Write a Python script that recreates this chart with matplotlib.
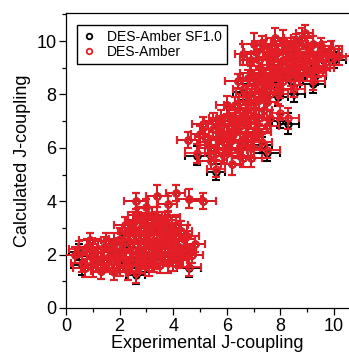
import numpy as np
import matplotlib
matplotlib.use("Agg")
import matplotlib.pyplot as plt
from matplotlib.lines import Line2D
from matplotlib.ticker import MultipleLocator

plt.rcParams['font.family'] = ['Liberation Sans', 'DejaVu Sans']

# --------------------- data ---------------------
# lower cluster
exp_low = [0.35, 0.6, 0.8, 0.9, 1.0, 1.1, 1.2, 1.3, 1.4, 1.5, 1.6, 1.7, 1.8, 1.9, 2.0,
           2.0, 2.1, 2.2, 2.3, 2.3, 2.4, 2.5, 2.5, 2.6, 2.6, 2.7, 2.7, 2.8, 2.8, 2.9,
           2.9, 3.0, 3.0, 3.1, 3.1, 3.2, 3.2, 3.3, 3.3, 3.4, 3.4, 3.5, 3.5, 3.6, 3.6,
           3.7, 3.8, 3.8, 3.9, 4.0, 4.0, 4.1, 4.2, 4.3, 4.4, 4.5, 4.6, 4.8, 2.6, 3.4,
           4.1, 4.6, 5.1, 3.0, 3.8,
           0.5, 0.7, 1.0, 1.2, 1.4, 1.6, 1.8, 2.0, 2.2, 2.2, 2.4, 2.4, 2.5, 2.6, 2.7,
           2.8, 2.9, 3.0, 3.0, 3.1, 3.2, 3.2, 3.3, 3.4, 3.5, 3.5, 3.6, 3.7, 3.7, 3.8,
           3.9, 4.0, 4.1, 4.2, 4.3, 4.4, 4.5, 4.7]
amber_low = [2.0, 1.7, 2.3, 2.55, 1.5, 1.9, 2.2, 1.4, 1.8, 2.5, 1.6, 2.1, 1.35, 1.9, 2.6,
             1.5, 2.2, 1.8, 2.9, 1.4, 2.4, 3.2, 1.9, 1.3, 2.7, 3.5, 2.1, 1.6, 3.0, 2.5,
             1.9, 3.4, 2.2, 1.5, 2.8, 3.1, 2.0, 2.5, 1.7, 3.3, 2.2, 2.8, 1.6, 3.0, 2.4,
             1.9, 2.7, 3.4, 2.1, 2.5, 1.7, 3.1, 2.3, 1.9, 2.6, 2.1, 1.55, 2.4, 4.0, 4.2,
             4.3, 4.1, 4.0, 3.8, 3.9,
             2.2, 1.5, 2.1, 1.6, 2.3, 1.9, 2.4, 1.9, 2.5, 3.1, 1.6, 2.9, 2.2, 3.3, 1.8,
             2.4, 3.2, 1.7, 2.8, 2.4, 3.5, 1.9, 2.9, 1.8, 2.5, 3.2, 2.0, 2.6, 3.3, 1.7,
             2.9, 2.2, 2.7, 1.8, 2.9, 2.2, 2.7, 2.0]
sf_low = [2.0, 1.6, 2.3, 2.55, 1.5, 1.9, 2.2, 1.4, 1.8, 2.5, 1.6, 2.1, 1.35, 1.9, 2.6,
          1.5, 2.2, 1.8, 2.9, 1.4, 2.4, 3.2, 1.8, 1.25, 2.7, 3.5, 2.1, 1.6, 3.0, 2.5,
          1.9, 3.4, 2.2, 1.5, 2.8, 3.1, 2.0, 2.5, 1.7, 3.3, 2.2, 2.8, 1.6, 3.0, 2.4,
          1.9, 2.7, 3.4, 2.1, 2.5, 1.7, 3.1, 2.3, 1.9, 2.6, 2.1, 1.5, 2.4, 4.0, 4.2,
          4.3, 4.1, 4.0, 3.8, 3.9,
          2.1, 1.5, 2.1, 1.6, 2.3, 1.9, 2.4, 1.9, 2.4, 3.1, 1.6, 2.9, 2.2, 3.3, 1.8,
          2.4, 3.2, 1.6, 2.8, 2.4, 3.5, 1.9, 2.9, 1.8, 2.5, 3.2, 2.0, 2.6, 3.3, 1.7,
          2.9, 2.2, 2.7, 1.8, 2.9, 2.2, 2.7, 2.0]
xerr_low = [0.45, 0.4, 0.35, 0.4, 0.45, 0.3, 0.4, 0.35, 0.45, 0.4, 0.3, 0.4, 0.45, 0.35, 0.4,
            0.45, 0.3, 0.4, 0.35, 0.45, 0.4, 0.3, 0.4, 0.35, 0.45, 0.4, 0.3, 0.4, 0.45, 0.35,
            0.4, 0.45, 0.3, 0.4, 0.35, 0.45, 0.4, 0.3, 0.4, 0.35, 0.45, 0.4, 0.3, 0.4, 0.45,
            0.35, 0.4, 0.45, 0.3, 0.4, 0.35, 0.45, 0.4, 0.3, 0.4, 0.35, 0.45, 0.4, 0.45, 0.4,
            0.35, 0.45, 0.5, 0.4, 0.35,
            0.4, 0.45, 0.35, 0.4, 0.45, 0.3, 0.4, 0.45, 0.35, 0.4, 0.45, 0.3, 0.4, 0.35, 0.45,
            0.4, 0.3, 0.4, 0.45, 0.35, 0.4, 0.45, 0.3, 0.4, 0.35, 0.45, 0.4, 0.3, 0.4, 0.45,
            0.35, 0.4, 0.45, 0.3, 0.4, 0.35, 0.45, 0.4]
yerr_low = [0.3, 0.35, 0.3, 0.25, 0.35, 0.3, 0.4, 0.3, 0.35, 0.3, 0.25, 0.35, 0.3, 0.3, 0.4,
            0.3, 0.35, 0.25, 0.3, 0.35, 0.3, 0.4, 0.3, 0.35, 0.3, 0.25, 0.35, 0.3, 0.3, 0.4,
            0.3, 0.35, 0.25, 0.3, 0.35, 0.3, 0.4, 0.3, 0.35, 0.3, 0.25, 0.35, 0.3, 0.3, 0.4,
            0.3, 0.35, 0.25, 0.3, 0.35, 0.3, 0.4, 0.3, 0.35, 0.3, 0.25, 0.35, 0.3, 0.3, 0.4,
            0.3, 0.35, 0.3, 0.3, 0.3,
            0.3, 0.35, 0.3, 0.25, 0.35, 0.3, 0.4, 0.3, 0.35, 0.3, 0.25, 0.35, 0.3, 0.3, 0.4,
            0.3, 0.35, 0.25, 0.3, 0.35, 0.3, 0.4, 0.3, 0.35, 0.3, 0.25, 0.35, 0.3, 0.3, 0.4,
            0.3, 0.35, 0.25, 0.3, 0.35, 0.3, 0.4, 0.3]

# upper cluster
exp_up = [4.55, 4.9, 5.0, 5.1, 5.3, 5.4, 5.5, 5.6, 5.7, 5.8, 5.9, 6.0, 6.0, 6.1, 6.2,
          6.2, 6.3, 6.4, 6.4, 6.5, 6.5, 6.6, 6.6, 6.7, 6.7, 6.8, 6.8, 6.9, 6.9, 7.0,
          7.0, 7.1, 7.1, 7.2, 7.2, 7.3, 7.3, 7.4, 7.4, 7.5, 7.5, 7.6, 7.6, 7.7, 7.8,
          7.8, 7.9, 8.0, 8.0, 8.1, 8.2, 8.3, 8.3, 8.4, 8.5, 8.6, 8.7, 8.8, 8.9, 9.0,
          9.1, 9.2, 9.3, 9.5, 9.6, 9.8, 10.0, 10.2, 7.5, 6.9,
          5.2, 5.4, 5.5, 5.6, 5.8, 5.9, 6.0, 6.1, 6.2, 6.3, 6.4, 6.5, 6.6, 6.6, 6.7,
          6.8, 6.8, 6.9, 6.9, 7.0, 7.0, 7.1, 7.2, 7.2, 7.3, 7.3, 7.4, 7.5, 7.5, 7.6,
          7.7, 7.7, 7.8, 7.9, 8.0, 8.1, 8.1, 8.2, 8.3, 8.4, 8.5, 8.5, 8.6, 8.7, 8.8,
          8.9, 9.0, 9.1, 9.2, 9.3, 9.4, 9.6, 9.7, 9.9,
          5.7, 6.1, 6.3, 6.5, 6.7, 7.0, 7.2, 7.4, 7.6, 7.9, 8.2, 8.6, 9.0, 9.4]
amber_up = [6.3, 5.8, 6.5, 6.9, 6.1, 5.5, 6.7, 5.2, 6.3, 7.1, 5.7, 7.6, 6.5, 6.0, 5.4,
            7.0, 6.6, 8.5, 5.9, 7.4, 6.2, 9.5, 5.6, 8.0, 6.9, 7.7, 6.4, 8.8, 6.0, 9.9,
            7.2, 8.4, 6.7, 9.3, 7.8, 6.2, 8.9, 7.4, 9.7, 8.2, 6.8, 9.1, 7.1, 8.6, 10.1,
            9.5, 8.0, 7.3, 9.0, 8.5, 9.8, 7.1, 8.9, 9.4, 8.2, 10.0, 8.7, 9.3, 10.3, 8.9,
            9.6, 8.5, 9.2, 9.8, 9.0, 9.5, 9.4, 9.45, 5.9, 5.6,
            6.4, 6.0, 7.0, 5.8, 6.6, 6.2, 5.8, 7.2, 6.3, 7.6, 6.9, 5.7, 7.1, 8.2, 6.5,
            8.6, 7.3, 9.3, 7.9, 6.4, 8.6, 9.6, 7.1, 8.7, 9.9, 8.1, 8.6, 9.4, 7.7, 8.4,
            9.8, 9.0, 8.8, 9.6, 8.2, 9.3, 10.0, 8.8, 9.6, 8.6, 9.9, 9.1, 8.8, 9.5, 10.1,
            9.0, 9.8, 8.9, 9.9, 8.8, 9.5, 9.6, 9.2, 9.7,
            6.9, 6.8, 7.1, 6.8, 7.4, 7.7, 6.6, 8.1, 8.0, 8.7, 9.3, 9.4, 9.3, 9.0]
sf_up = [6.3, 5.7, 6.5, 6.9, 6.1, 5.5, 6.7, 5.1, 6.3, 7.1, 5.7, 7.6, 6.5, 6.0, 5.4,
         7.0, 6.6, 8.5, 5.9, 7.4, 6.2, 9.5, 5.6, 8.0, 6.9, 7.7, 6.4, 8.8, 6.0, 9.9,
         7.2, 8.4, 6.7, 9.3, 7.8, 6.1, 8.9, 7.4, 9.7, 8.2, 6.8, 9.1, 7.1, 8.6, 10.1,
         9.5, 7.9, 7.0, 9.0, 8.5, 9.8, 6.9, 8.9, 9.4, 8.0, 10.0, 8.7, 9.3, 10.3, 8.9,
         9.6, 8.4, 9.2, 9.8, 9.0, 9.5, 9.3, 9.45, 5.8, 5.6,
         6.4, 6.0, 7.0, 5.8, 6.6, 6.2, 5.8, 7.2, 6.3, 7.6, 6.9, 5.7, 7.1, 8.1, 6.5,
         8.6, 7.3, 9.3, 7.9, 6.4, 8.6, 9.6, 7.1, 8.7, 9.9, 8.1, 8.6, 9.4, 7.7, 8.4,
         9.8, 9.0, 8.7, 9.6, 8.2, 9.3, 10.0, 8.8, 9.6, 8.5, 9.9, 9.1, 8.8, 9.5, 10.1,
         9.0, 9.8, 8.9, 9.9, 8.7, 9.5, 9.6, 9.2, 9.7,
         6.9, 6.8, 7.1, 6.8, 7.4, 7.7, 6.6, 8.1, 8.0, 8.7, 9.3, 9.4, 9.3, 9.0]
xerr_up = [0.4, 0.45, 0.35, 0.4, 0.3, 0.45, 0.4, 0.35, 0.4, 0.45, 0.3, 0.4, 0.35, 0.45, 0.4,
           0.3, 0.4, 0.45, 0.35, 0.4, 0.45, 0.3, 0.4, 0.35, 0.45, 0.4, 0.3, 0.4, 0.35, 0.45,
           0.4, 0.3, 0.4, 0.45, 0.35, 0.4, 0.45, 0.3, 0.4, 0.35, 0.45, 0.4, 0.3, 0.4, 0.35,
           0.45, 0.4, 0.3, 0.4, 0.45, 0.35, 0.4, 0.45, 0.3, 0.4, 0.35, 0.45, 0.4, 0.3, 0.4,
           0.35, 0.45, 0.4, 0.45, 0.4, 0.35, 0.45, 0.4, 0.5, 0.4,
           0.4, 0.45, 0.35, 0.4, 0.45, 0.3, 0.4, 0.45, 0.35, 0.4, 0.45, 0.3, 0.4, 0.35, 0.45,
           0.4, 0.3, 0.4, 0.45, 0.35, 0.4, 0.45, 0.3, 0.4, 0.35, 0.45, 0.4, 0.3, 0.4, 0.45,
           0.35, 0.4, 0.45, 0.3, 0.4, 0.35, 0.45, 0.4, 0.4, 0.45, 0.3, 0.4, 0.35, 0.45, 0.4,
           0.3, 0.4, 0.45, 0.35, 0.4, 0.45, 0.4, 0.35, 0.4,
           0.4, 0.35, 0.45, 0.4, 0.3, 0.4, 0.45, 0.35, 0.4, 0.45, 0.3, 0.4, 0.35, 0.45]
yerr_up = [0.3, 0.35, 0.3, 0.25, 0.35, 0.3, 0.4, 0.3, 0.35, 0.3, 0.25, 0.35, 0.3, 0.3, 0.4,
           0.3, 0.35, 0.25, 0.3, 0.35, 0.3, 0.4, 0.3, 0.35, 0.3, 0.25, 0.35, 0.3, 0.3, 0.4,
           0.3, 0.35, 0.25, 0.3, 0.35, 0.3, 0.4, 0.3, 0.35, 0.3, 0.25, 0.35, 0.3, 0.3, 0.4,
           0.3, 0.35, 0.25, 0.3, 0.35, 0.3, 0.4, 0.3, 0.35, 0.3, 0.25, 0.35, 0.3, 0.3, 0.4,
           0.3, 0.35, 0.3, 0.3, 0.3, 0.3, 0.3, 0.35, 0.3, 0.3,
           0.3, 0.35, 0.3, 0.25, 0.35, 0.3, 0.4, 0.3, 0.35, 0.3, 0.25, 0.35, 0.3, 0.3, 0.4,
           0.3, 0.35, 0.25, 0.3, 0.35, 0.3, 0.4, 0.3, 0.35, 0.3, 0.25, 0.35, 0.3, 0.3, 0.4,
           0.3, 0.35, 0.25, 0.3, 0.35, 0.3, 0.4, 0.3, 0.35, 0.3, 0.25, 0.35, 0.3, 0.3, 0.4,
           0.3, 0.35, 0.25, 0.3, 0.35, 0.3, 0.35, 0.3, 0.3,
           0.3, 0.35, 0.3, 0.3, 0.35, 0.3, 0.3, 0.35, 0.3, 0.3, 0.35, 0.3, 0.3, 0.35]

exp_j = exp_low + exp_up
calc_sf10 = sf_low + sf_up
calc_amber = amber_low + amber_up
err_x = xerr_low + xerr_up
err_y = yerr_low + yerr_up

series_labels = ["DES-Amber SF1.0", "DES-Amber"]
RED = "#e41e26"

# --------------------- plot ---------------------
fig = plt.figure(figsize=(3.49, 3.56), dpi=100)
ax = fig.add_axes([66 / 349, 48 / 356, 283 / 349, 295 / 356])

style = dict(fmt='o', ms=4.5, mfc='none', mew=1.5, elinewidth=1.3,
             capsize=3.2, capthick=1.3, linestyle='none')
ax.errorbar(exp_j, calc_sf10, xerr=err_x, yerr=err_y, color='black',
            ecolor='black', zorder=2, **style)
ax.errorbar(exp_j, calc_amber, xerr=err_x, yerr=err_y, color=RED,
            ecolor=RED, zorder=3, **style)

ax.set_xlim(0, 10.56)
ax.set_ylim(0, 11.05)
ax.xaxis.set_major_locator(MultipleLocator(2))
ax.xaxis.set_minor_locator(MultipleLocator(1))
ax.yaxis.set_major_locator(MultipleLocator(2))
ax.yaxis.set_minor_locator(MultipleLocator(1))
ax.tick_params(which='major', direction='out', length=5, width=0.9, labelsize=13,
               pad=2, top=False, right=False)
ax.tick_params(which='minor', direction='out', length=3, width=0.9,
               top=False, right=False)
ax.spines['right'].set_visible(False)
for s in ['left', 'bottom', 'top']:
    ax.spines[s].set_linewidth(0.9)

ax.set_xlabel("Experimental J-coupling", fontsize=13, labelpad=0)
ax.set_ylabel("Calculated J-coupling", fontsize=13, labelpad=4)

handles = [Line2D([], [], marker='o', ms=4, mfc='none', mew=1.3, color='black', ls='none'),
           Line2D([], [], marker='o', ms=4, mfc='none', mew=1.3, color=RED, ls='none')]
leg = ax.legend(handles, series_labels, loc='upper left', bbox_to_anchor=(0.04, 0.96),
                borderaxespad=0, fontsize=10, frameon=True, fancybox=False,
                edgecolor='black', framealpha=1, handlelength=1.0, handletextpad=0.8,
                borderpad=0.35, labelspacing=0.1)
leg.get_frame().set_linewidth(1.0)
leg.set_zorder(5)

fig.savefig("out.png", dpi=100)
